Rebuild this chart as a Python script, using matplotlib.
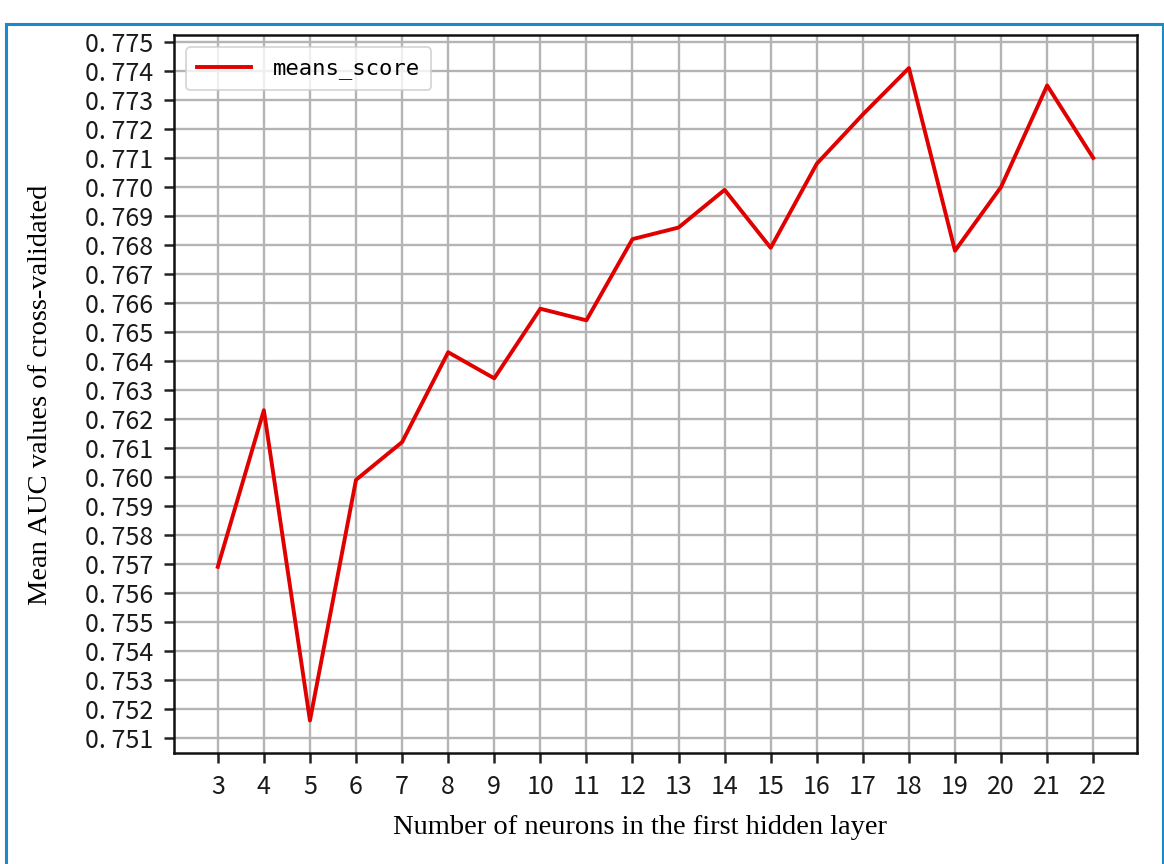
import matplotlib
matplotlib.use("Agg")
import matplotlib.pyplot as plt
from matplotlib.patches import Rectangle
from matplotlib.ticker import FuncFormatter

# mean cross-validated AUC for each size of the first hidden layer
neurons = [3, 4, 5, 6, 7, 8, 9, 10, 11, 12, 13, 14, 15, 16, 17, 18, 19, 20, 21, 22]
means_score = [0.7569, 0.7623, 0.7516, 0.7599, 0.7612, 0.7643, 0.7634, 0.7658,
               0.7654, 0.7682, 0.7686, 0.7699, 0.7679, 0.7708, 0.7725, 0.7741,
               0.7678, 0.7700, 0.7735, 0.7710]
yticks = [0.751 + 0.001 * i for i in range(25)]

fig = plt.figure(figsize=(11.64, 8.64), dpi=100)
ax = fig.add_axes([0.1495, 0.1285, 0.8273, 0.831])

ax.plot(neurons, means_score, color="#e00000", lw=2.8, label="means_score")
ax.set_xticks(neurons)
ax.set_yticks(yticks)
ax.set_ylim(0.75048, 0.77524)
ax.set_xlim(2.05, 22.95)
ax.yaxis.set_major_formatter(FuncFormatter(lambda v, p: ("%.3f" % v).replace(".", ". ")))
ax.grid(True, color="#b4b4b4", lw=1.7)
ax.set_axisbelow(True)

for s in ax.spines.values():
    s.set_linewidth(1.8)
    s.set_color("#111111")
ax.tick_params(length=7, width=1.8, color="#222222")
ax.tick_params(axis="y", pad=8)
ax.tick_params(axis="x", pad=8)
for lab in ax.get_xticklabels() + ax.get_yticklabels():
    lab.set_family(["Noto Sans CJK SC", "DejaVu Sans"])
    lab.set_fontsize(18)
    lab.set_color("#1a1a1a")

leg = ax.legend(loc="upper left", prop={"family": "DejaVu Sans Mono", "size": 16},
                handlelength=2.4, handletextpad=1.0, borderaxespad=0.55,
                borderpad=0.5, fancybox=True, framealpha=0.8, edgecolor="#cccccc")
leg.get_frame().set_linewidth(1.3)

fig.text(0.55, 0.042, "Number of neurons in the first hidden layer", ha="center", va="center",
         family="Liberation Serif", fontsize=20.5)
fig.text(0.035, 0.543, "Mean AUC values of cross-validated", ha="center", va="center",
         rotation=90, family="Liberation Serif", fontsize=20.5)

# blue frame around the figure
fig.patches.append(Rectangle((0.0055, -0.01), 0.9935, 0.9825, transform=fig.transFigure,
                             fill=False, edgecolor="#1b8ac8", lw=2.2))

fig.savefig("out.png", dpi=100)
